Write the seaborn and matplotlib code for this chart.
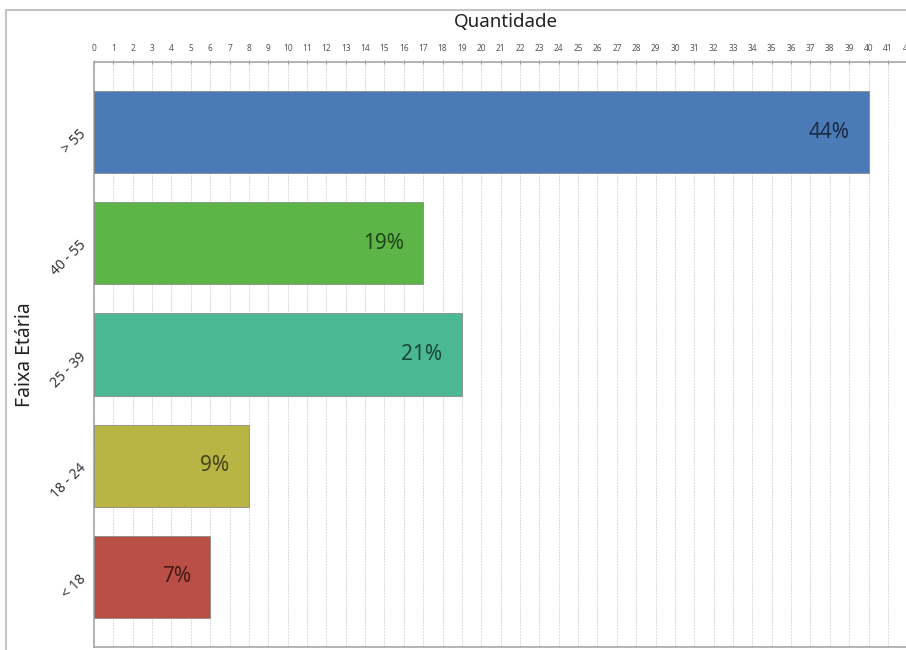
import matplotlib
matplotlib.use("Agg")
import matplotlib.pyplot as plt
import seaborn as sns
import pandas as pd
from matplotlib.lines import Line2D

categories = ["> 55", "40 - 55", "25 - 39", "18 - 24", "< 18"]
values = [40, 17, 19, 8, 6]
percent_labels = ["44%", "19%", "21%", "9%", "7%"]
bar_colors = ["#4a7bb7", "#5db547", "#4ab892", "#b9b545", "#b94f45"]
text_colors = ["#1b2c45", "#1d4519", "#1a4737", "#45441a", "#451b18"]
x_ticks = list(range(0, 43))

df = pd.DataFrame({"Faixa": categories, "Quantidade": values})

sns.set_style("white")
plt.rcParams["font.family"] = ["Noto Sans", "DejaVu Sans"]

fig = plt.figure(figsize=(9.06, 6.5), dpi=100)
ax = fig.add_axes([94 / 906, 1 - 647 / 650, (917 - 94) / 906, (647 - 62) / 650])

sns.barplot(data=df, x="Quantidade", y="Faixa", hue="Faixa", order=categories,
            hue_order=categories, palette=bar_colors, orient="h", width=0.74,
            saturation=1, edgecolor="#8a8a8a", linewidth=0.6, legend=False,
            ax=ax, zorder=3)

ax.set_xlim(0, 42.5)
ax.set_ylim(4.63, -0.63)
ax.set_xticks(x_ticks)
ax.xaxis.tick_top()
ax.xaxis.set_label_position("top")
ax.tick_params(axis="x", labelsize=6, labelcolor="#555555", length=3,
               direction="inout", color="#999999", pad=5)
ax.tick_params(axis="y", labelsize=10, labelcolor="#333333", length=3,
               color="#bbbbbb", pad=4)
for lbl in ax.get_yticklabels():
    lbl.set_rotation(45)
    lbl.set_ha("right")
    lbl.set_va("center")
    lbl.set_rotation_mode("anchor")

ax.grid(axis="x", color="#d9d9d9", linestyle=(0, (2, 1)), linewidth=0.7, zorder=0)
ax.set_axisbelow(True)

ax.set_xlabel("Quantidade", fontsize=13.5, color="#222222", labelpad=12)
ax.set_ylabel("Faixa Etária", fontsize=14, color="#222222", labelpad=10)

for s in ["left", "top", "bottom"]:
    ax.spines[s].set_color("#a8a8a8")
    ax.spines[s].set_linewidth(1.2)
ax.spines["right"].set_visible(False)

for i, (v, p) in enumerate(zip(values, percent_labels)):
    ax.text(v - 1.0, i, p, ha="right", va="center", fontsize=15,
            color=text_colors[i], zorder=5)

# outer frame
fig.add_artist(Line2D([6 / 906, 6 / 906], [0, 1 - 10 / 650], transform=fig.transFigure,
                      color="#c4c4c4", linewidth=1.5))
fig.add_artist(Line2D([6 / 906, 1], [1 - 10 / 650, 1 - 10 / 650], transform=fig.transFigure,
                      color="#c4c4c4", linewidth=1.5))

fig.savefig("out.png", dpi=100)
